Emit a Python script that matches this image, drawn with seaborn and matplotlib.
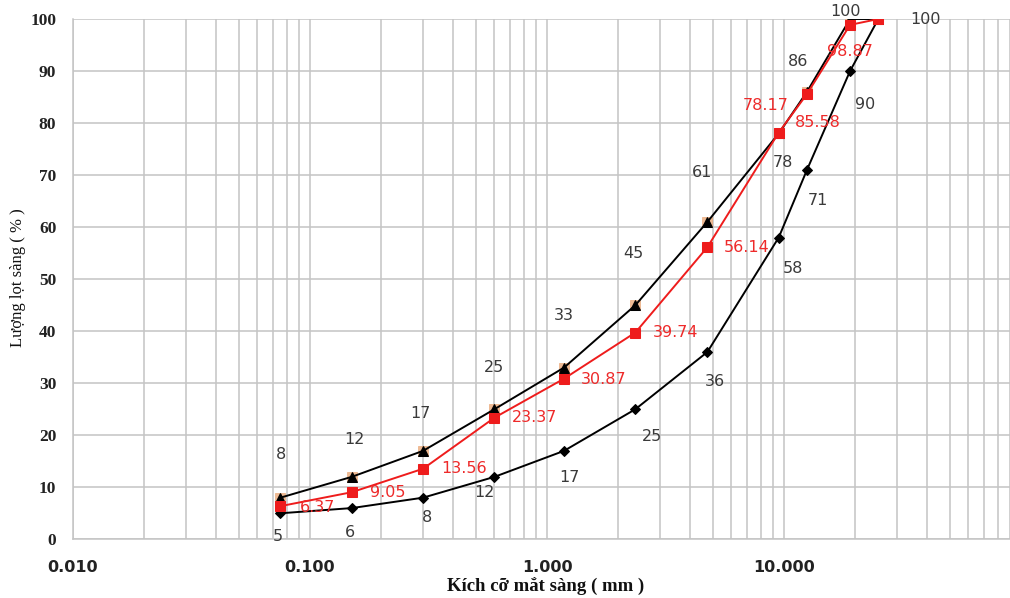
import numpy as np
import pandas as pd
import matplotlib
matplotlib.use("Agg")
import matplotlib.pyplot as plt
from matplotlib.ticker import FixedLocator, NullFormatter, FuncFormatter
import seaborn as sns

# Sieve sizes (mm) and cumulative passing (%)
sieve_mm = [0.075, 0.15, 0.3, 0.6, 1.18, 2.36, 4.75, 9.5, 12.5, 19, 25]
upper_limit = [8, 12, 17, 25, 33, 45, 61, 78, 86, 100, 100]
mix_passing = [6.37, 9.05, 13.56, 23.37, 30.87, 39.74, 56.14, 78.17, 85.58, 98.87, 100]
lower_limit = [5, 6, 8, 12, 17, 25, 36, 58, 71, 90, 100]

x_tick_values = [0.01, 0.1, 1, 10]
y_tick_values = [0, 10, 20, 30, 40, 50, 60, 70, 80, 90, 100]

x_label = "Kích cỡ mắt sàng ( mm )"
y_label = "Lượng lọt sàng ( % )"

# Label offsets in pixels (dx, dy; +dy = downwards), None = no label
upper_offsets = [(1, -43), (3, -37), (-3, -37), (0, -42), (0, -52), (-2, -52),
                 (-5, -49), (4, 29), (-9, -30), (-5, -7), None]
lower_offsets = [(-3, 23), (-2, 24), (4, 20), (-10, 16), (5, 27), (17, 27),
                 (7, 30), (14, 31), (11, 31), (15, 33), (47, 0)]
mix_offsets = [(37, 1), (36, 0), (41, 0), (40, 0), (40, 1), (40, 0),
               (39, 0), (-13, -27), (11, 28), (0, 27), None]

sns.set_style("white")
plt.rcParams["font.family"] = ["DejaVu Sans"]

fig = plt.figure(figsize=(10.10, 5.98), dpi=100)
ax = fig.add_axes([73 / 1010, (598 - 539.3) / 598, (1021 - 73) / 1010, 520.3 / 598])

df = pd.DataFrame({"size": sieve_mm, "upper": upper_limit,
                   "mix": mix_passing, "lower": lower_limit})

grid_c = "#c4c4c4"

# grid
ax.set_xscale("log")
ax.set_xlim(0.01, 100)
ax.set_ylim(0, 100)
ax.xaxis.set_major_locator(FixedLocator(x_tick_values))
minor = [m * 10.0 ** e for e in range(-2, 2) for m in range(2, 10)]
ax.xaxis.set_minor_locator(FixedLocator(minor))
ax.xaxis.set_minor_formatter(NullFormatter())
ax.xaxis.set_major_formatter(FuncFormatter(lambda v, p: f"{v:.3f}"))
ax.yaxis.set_major_locator(FixedLocator(y_tick_values))
ax.grid(True, which="both", axis="x", color=grid_c, lw=1.1)
ax.grid(True, which="major", axis="y", color=grid_c, lw=1.1)
ax.set_axisbelow(True)
for s in ["top", "right"]:
    ax.spines[s].set_visible(False)
for s in ["left", "bottom"]:
    ax.spines[s].set_color(grid_c)
    ax.spines[s].set_linewidth(1.1)

ax.tick_params(axis="x", which="major", length=4, width=1.1, color=grid_c, pad=11,
               labelsize=11.5, labelcolor="#222222")
ax.tick_params(axis="x", which="minor", length=0)
ax.tick_params(axis="y", which="major", length=3, width=1.1, color=grid_c, pad=9,
               labelsize=12.5, labelcolor="#222222")
for lab in ax.get_xticklabels():
    lab.set_fontweight("bold")
for lab in ax.get_yticklabels():
    lab.set_fontfamily("Liberation Serif")
    lab.set_fontweight("bold")

# series
sns.lineplot(data=df, x="size", y="lower", color="black", lw=1.4, marker="D",
             markersize=5.5, markeredgecolor="black", ax=ax, zorder=3)
sns.scatterplot(data=df, x="size", y="upper", color="#eaa979", marker="s", s=55,
                edgecolor="#eaa979", alpha=0.8, ax=ax, zorder=3)
sns.lineplot(data=df, x="size", y="upper", color="black", lw=1.4, marker="^",
             markersize=7, markeredgecolor="black", ax=ax, zorder=4)
sns.lineplot(data=df, x="size", y="mix", color="#ee1c1c", lw=1.4, marker="s",
             markersize=6.5, markeredgecolor="#ee1c1c", ax=ax, zorder=5)

# value labels
def put_labels(values, offsets, color):
    for xv, yv, off in zip(sieve_mm, values, offsets):
        if off is None:
            continue
        txt = f"{yv:g}"
        ax.annotate(txt, (xv, yv), xytext=(off[0] * 0.72, -off[1] * 0.72),
                    textcoords="offset points", ha="center", va="center",
                    fontsize=11.5, color=color, zorder=6, annotation_clip=False)

put_labels(upper_limit, upper_offsets, "#3a3a3a")
put_labels(lower_limit, lower_offsets, "#3a3a3a")
put_labels(mix_passing, mix_offsets, "#ee2a2a")

ax.set_xlabel("")
ax.set_ylabel("")
fig.text(546 / 1010, 1 - 586 / 598, x_label, ha="center", va="center",
         fontsize=13.5, fontweight="bold", family="Liberation Serif", color="#111111")
fig.text(18 / 1010, 1 - 278 / 598, y_label, ha="center", va="center", rotation=90,
         fontsize=12, family="Liberation Serif", color="#111111")

fig.savefig("out.png", dpi=100)
